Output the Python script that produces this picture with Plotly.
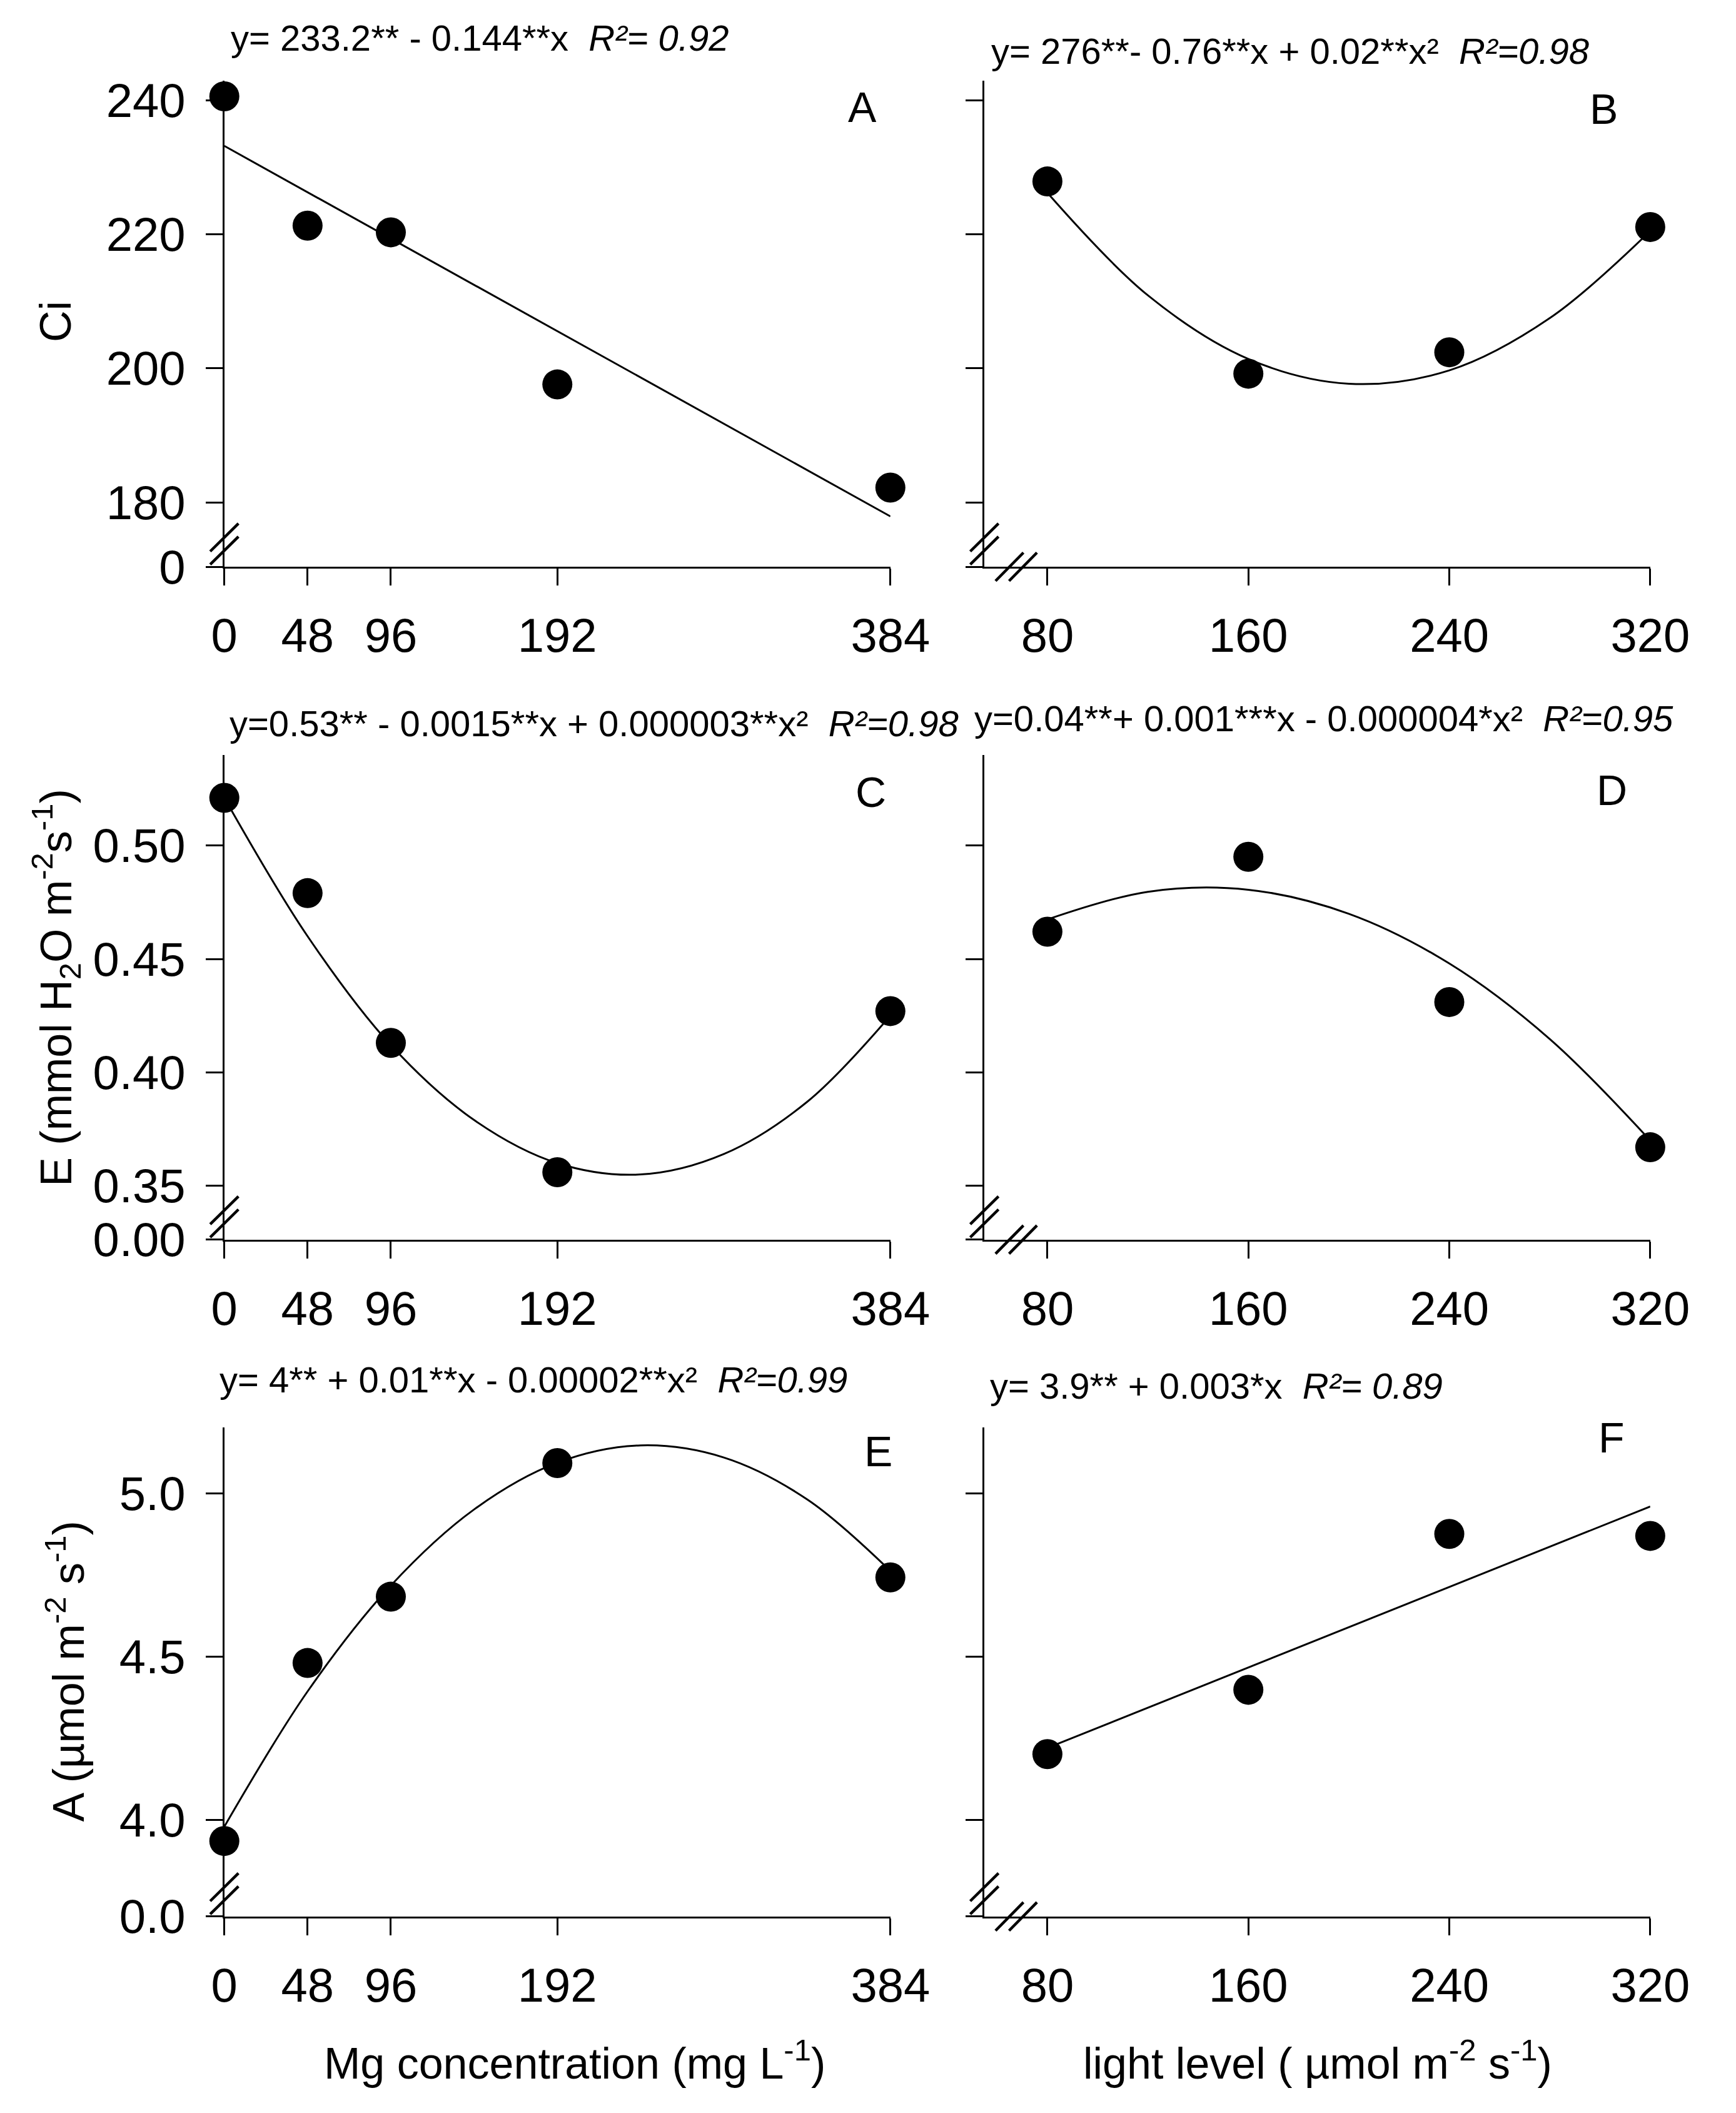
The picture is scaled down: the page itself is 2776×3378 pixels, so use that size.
import plotly.graph_objects as go

W, H = 2776, 3378
FONT = "Liberation Sans, Arial, sans-serif"

# x levels
mg_levels = [0, 48, 96, 192, 384]
light_levels = [80, 160, 240, 320]

# measured means
ci_mg = [240.6, 221.3, 220.3, 197.6, 182.2]
ci_light = [227.9, 199.2, 202.4, 221.1]
e_mg = [0.521, 0.479, 0.413, 0.356, 0.427]
e_light = [0.462, 0.495, 0.431, 0.367]
a_mg = [3.936, 4.481, 4.684, 5.093, 4.743]
a_light = [4.202, 4.399, 4.876, 4.870]

# regression curves as drawn
fit_ci_mg_x = [0, 384]
fit_ci_mg_y = [233.2, 177.9]
fit_ci_light_x = [80, 120, 160, 200, 240, 280, 320]
fit_ci_light_y = [226.2, 210.9, 201.4, 197.7, 199.7, 207.5, 220.5]
fit_e_mg_x = [0, 48, 96, 144, 192, 240, 288, 336, 384]
fit_e_mg_y = [0.521, 0.460, 0.412, 0.379, 0.360, 0.355, 0.364, 0.387, 0.425]
fit_e_light_x = [80, 120, 160, 200, 240, 280, 320]
fit_e_light_y = [0.4674, 0.4796, 0.4805, 0.4699, 0.448, 0.4147, 0.370]
fit_a_mg_x = [0, 48, 96, 144, 192, 240, 288, 336, 384]
fit_a_mg_y = [3.980, 4.394, 4.718, 4.951, 5.094, 5.147, 5.110, 4.982, 4.763]
fit_a_light_x = [80, 320]
fit_a_light_y = [4.221, 4.960]

# tick labels
ci_ticks = [180, 200, 220, 240]
e_ticks = [0.35, 0.40, 0.45, 0.50]
a_ticks = [4.0, 4.5, 5.0]

equations = [
    "y= 233.2** - 0.144**x  <i>R²= 0.92</i>",
    "y= 276**- 0.76**x + 0.02**x²  <i>R²=0.98</i>",
    "y=0.53** - 0.0015**x + 0.000003**x²  <i>R²=0.98</i>",
    "y=0.04**+ 0.001***x - 0.000004*x²  <i>R²=0.95</i>",
    "y= 4** + 0.01**x - 0.00002**x²  <i>R²=0.99</i>",
    "y= 3.9** + 0.003*x  <i>R²= 0.89</i>",
]
letters = ["A", "B", "C", "D", "E", "F"]


def px(x):
    return x / W


def py(y):
    return 1 - y / H


# geometry in pixels
left_x = (340, 1438.3)
right_x = (1593.3, 2691.3)
rows = [(901.5, 112.2), (1994.6, 1207.6), (3094.3, 2300.0)]  # (axis line, top)
y_ranges = [(170.38, 242.9), (0.3263, 0.5398), (3.705, 5.2016)]
y_ticks = [ci_ticks, e_ticks, a_ticks]
zero_text = ["0", "0.00", "0.0"]
tick_fmt = [lambda v: "%d" % v, lambda v: "%.2f" % v, lambda v: "%.1f" % v]

panels = [
    (mg_levels, ci_mg, fit_ci_mg_x, fit_ci_mg_y),
    (light_levels, ci_light, fit_ci_light_x, fit_ci_light_y),
    (mg_levels, e_mg, fit_e_mg_x, fit_e_mg_y),
    (light_levels, e_light, fit_e_light_x, fit_e_light_y),
    (mg_levels, a_mg, fit_a_mg_x, fit_a_mg_y),
    (light_levels, a_light, fit_a_light_x, fit_a_light_y),
]

fig = go.Figure()
layout = {}
axis_style = dict(showline=True, linecolor="black", linewidth=3, ticks="outside",
                  ticklen=27, tickwidth=3, tickcolor="black", showgrid=False,
                  zeroline=False, tickfont=dict(family=FONT, size=76, color="black"))

for i, (xs, ys, fx, fy) in enumerate(panels):
    n = "" if i == 0 else str(i + 1)
    row, col = divmod(i, 2)
    bottom, top = rows[row]
    xpix = left_x if col == 0 else right_x
    if col == 0:
        xr = [0, 384]
        xt = mg_levels
    else:
        xr = [54.9, 320]
        xt = light_levels
    y0, y1 = y_ranges[row]
    yvals = [y0] + y_ticks[row]
    ytext = [zero_text[row]] + [tick_fmt[row](v) for v in y_ticks[row]]
    layout["xaxis" + n] = dict(axis_style, domain=[px(xpix[0]), px(xpix[1])], range=xr,
                               tickvals=xt, ticktext=[str(v) for v in xt],
                               anchor="y" + n, ticklabelstandoff=15)
    layout["yaxis" + n] = dict(axis_style, domain=[py(bottom), py(top)], range=[y0, y1],
                               tickvals=yvals, ticktext=ytext, anchor="x" + n,
                               showticklabels=(col == 0), ticklabelstandoff=17)
    fig.add_trace(go.Scatter(x=fx, y=fy, mode="lines", line=dict(color="black", width=3, shape="spline"),
                             xaxis="x" + n, yaxis="y" + n, cliponaxis=False, showlegend=False))
    fig.add_trace(go.Scatter(x=xs, y=ys, mode="markers", marker=dict(color="black", size=48),
                             xaxis="x" + n, yaxis="y" + n, cliponaxis=False, showlegend=False))

# break marks
shapes = []
brk = dict(type="line", xref="paper", yref="paper", line=dict(color="black", width=4.5))
for bottom, _ in rows:
    for ax in (left_x[0], right_x[0]):
        for dy in (-25, -3.7):
            shapes.append(dict(brk, x0=px(ax - 23.3), y0=py(bottom + dy),
                               x1=px(ax + 23.3), y1=py(bottom + dy - 45.3)))
    for dx in (18.4, 40.7):
        ax = right_x[0]
        shapes.append(dict(brk, x0=px(ax + dx), y0=py(bottom + 23),
                           x1=px(ax + dx + 46), y1=py(bottom - 23)))

ann = []
eq_pos = [(349, 42), (1602, 64), (346, 1156), (1575, 1148), (330, 2222), (1600, 2232)]
for txt, (x, y) in zip(equations, eq_pos):
    ann.append(dict(text=txt, x=px(x), y=py(y), xref="paper", yref="paper", xanchor="left",
                    yanchor="middle", showarrow=False, font=dict(family=FONT, size=58, color="black")))
let_pos = [(1392, 154), (2615, 158), (1406, 1267), (2628, 1264), (1418, 2338), (2628, 2316)]
for txt, (x, y) in zip(letters, let_pos):
    ann.append(dict(text=txt, x=px(x), y=py(y), xref="paper", yref="paper", xanchor="center",
                    yanchor="middle", showarrow=False, font=dict(family=FONT, size=68, color="black")))

y_titles = [("Ci", 62, 503),
            ("E (mmol H<sub>2</sub>O m<sup>-2</sup>s<sup>-1</sup>)", 62, 1585),
            ("A (µmol m<sup>-2</sup> s<sup>-1</sup>)", 78, 2696)]
for txt, x, y in y_titles:
    ann.append(dict(text=txt, x=px(x), y=py(y), xref="paper", yref="paper", textangle=-90,
                    xanchor="center", yanchor="middle", showarrow=False,
                    font=dict(family=FONT, size=70, color="black")))
x_titles = [("Mg concentration (mg L<sup>-1</sup>)", 918, 3328),
            ("light level ( µmol m<sup>-2</sup> s<sup>-1</sup>)", 2143, 3328)]
for txt, x, y in x_titles:
    ann.append(dict(text=txt, x=px(x), y=py(y), xref="paper", yref="paper",
                    xanchor="center", yanchor="middle", showarrow=False,
                    font=dict(family=FONT, size=70, color="black")))

fig.update_layout(**layout)
fig.update_layout(width=W, height=H, autosize=False, margin=dict(l=0, r=0, t=0, b=0),
                  paper_bgcolor="white", plot_bgcolor="white", shapes=shapes, annotations=ann,
                  font=dict(family=FONT, color="black"))

fig.write_html("out.html")
